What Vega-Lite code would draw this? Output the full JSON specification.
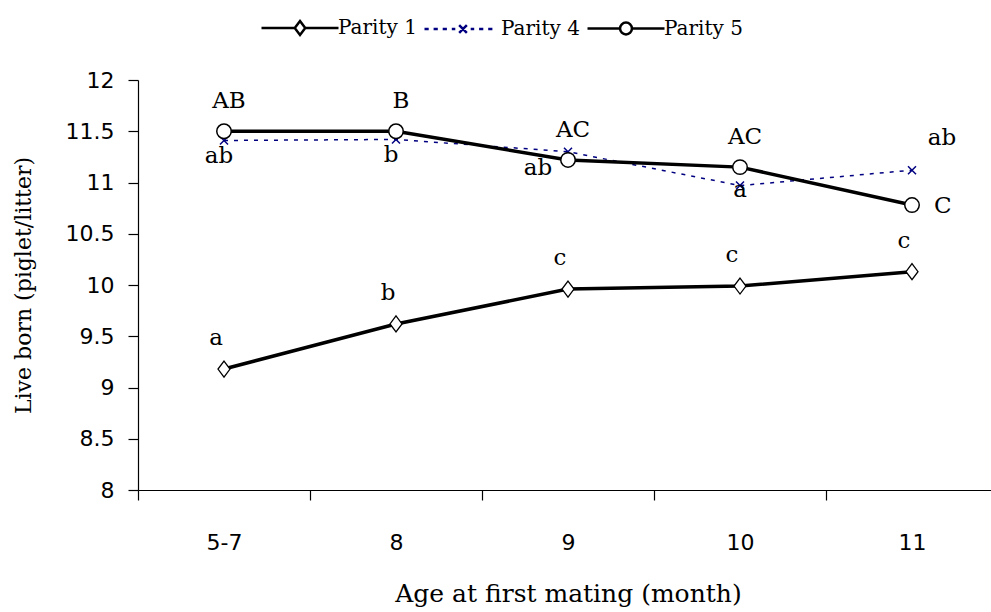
{
  "$schema": "https://vega.github.io/schema/vega-lite/v6.json",
  "width": 853,
  "height": 410,
  "autosize": "none",
  "padding": {"left": 138, "top": 80, "right": 0, "bottom": 122},
  "background": "white",
  "config": {
    "view": {"stroke": null},
    "axis": {"domainColor": "black", "tickColor": "black", "labelColor": "black", "titleColor": "black", "grid": false, "domainWidth": 1.2, "tickWidth": 1.2}
  },
  "data": {
    "values": [
      {"series": "Parity 1", "age": "5-7", "value": 9.18, "label": "a"},
      {"series": "Parity 1", "age": "8", "value": 9.62, "label": "b"},
      {"series": "Parity 1", "age": "9", "value": 9.96, "label": "c"},
      {"series": "Parity 1", "age": "10", "value": 9.99, "label": "c"},
      {"series": "Parity 1", "age": "11", "value": 10.13, "label": "c"},
      {"series": "Parity 4", "age": "5-7", "value": 11.41, "label": "ab"},
      {"series": "Parity 4", "age": "8", "value": 11.42, "label": "b"},
      {"series": "Parity 4", "age": "9", "value": 11.3, "label": "ab"},
      {"series": "Parity 4", "age": "10", "value": 10.97, "label": "a"},
      {"series": "Parity 4", "age": "11", "value": 11.12, "label": "ab"},
      {"series": "Parity 5", "age": "5-7", "value": 11.5, "label": "AB"},
      {"series": "Parity 5", "age": "8", "value": 11.5, "label": "B"},
      {"series": "Parity 5", "age": "9", "value": 11.22, "label": "AC"},
      {"series": "Parity 5", "age": "10", "value": 11.15, "label": "AC"},
      {"series": "Parity 5", "age": "11", "value": 10.78, "label": "C"}
    ]
  },
  "encoding": {
    "x": {
      "field": "age", "type": "ordinal", "sort": null,
      "scale": {"type": "band", "domain": ["5-7", "8", "9", "10", "11"], "range": [0, 860], "paddingInner": 0, "paddingOuter": 0},
      "axis": {"title": "Age at first mating  (month)", "labelAngle": 0, "tickBand": "extent", "tickSize": 10, "labelPadding": 32, "labelFont": "DejaVu Sans", "labelFontSize": 22, "labelFontWeight": "normal", "titleFont": "DejaVu Serif", "titleFontSize": 25, "titleFontWeight": "normal", "titlePadding": 28}
    },
    "y": {
      "field": "value", "type": "quantitative",
      "scale": {"domain": [8, 12], "nice": false, "zero": false},
      "axis": {"title": "Live born (piglet/litter)", "values": [8, 8.5, 9, 9.5, 10, 10.5, 11, 11.5, 12], "format": "~g", "tickSize": 10, "labelPadding": 14, "labelFont": "DejaVu Sans", "labelFontSize": 22, "titleFont": "DejaVu Serif", "titleFontSize": 22, "titleFontWeight": "normal", "titlePadding": 30}
    }
  },
  "layer": [
    {
      "transform": [{"filter": "datum.series === 'Parity 4'"}],
      "mark": {"type": "line", "color": "#000080", "strokeWidth": 1.5, "strokeDash": [4, 6]}
    },
    {
      "transform": [{"filter": "datum.series === 'Parity 1'"}],
      "mark": {"type": "line", "color": "black", "strokeWidth": 3.5}
    },
    {
      "transform": [{"filter": "datum.series === 'Parity 5'"}],
      "mark": {"type": "line", "color": "black", "strokeWidth": 3.5}
    },
    {
      "transform": [{"filter": "datum.series === 'Parity 4'"}],
      "mark": {"type": "point", "shape": "M-1,-1L1,1M-1,1L1,-1", "size": 64, "filled": false, "stroke": "#000080", "strokeWidth": 1.5, "opacity": 1}
    },
    {
      "transform": [{"filter": "datum.series === 'Parity 1'"}],
      "mark": {"type": "point", "shape": "M0,-1L0.75,0L0,1L-0.75,0Z", "size": 256, "filled": true, "fill": "white", "stroke": "black", "strokeWidth": 1.3, "opacity": 1}
    },
    {
      "transform": [{"filter": "datum.series === 'Parity 5'"}],
      "mark": {"type": "point", "shape": "circle", "size": 210, "filled": true, "fill": "white", "stroke": "black", "strokeWidth": 1.5, "opacity": 1}
    },
    {
      "transform": [{"filter": "datum.series === 'Parity 1'"}],
      "mark": {"type": "text", "font": "DejaVu Serif", "fontSize": 23, "color": "black", "dx": -8, "dy": -31, "baseline": "middle", "align": "center"},
      "encoding": {"text": {"field": "label"}}
    },
    {
      "transform": [{"filter": "datum.series === 'Parity 5' && datum.age !== '11'"}],
      "mark": {"type": "text", "font": "DejaVu Serif", "fontSize": 23, "color": "black", "dx": 5, "dy": -30, "baseline": "middle", "align": "center"},
      "encoding": {"text": {"field": "label"}}
    },
    {
      "transform": [{"filter": "datum.series === 'Parity 5' && datum.age === '11'"}],
      "mark": {"type": "text", "font": "DejaVu Serif", "fontSize": 23, "color": "black", "dx": 22, "dy": 1, "baseline": "middle", "align": "left"},
      "encoding": {"text": {"field": "label"}}
    },
    {
      "transform": [{"filter": "datum.series === 'Parity 4' && (datum.age === '5-7' || datum.age === '8')"}],
      "mark": {"type": "text", "font": "DejaVu Serif", "fontSize": 23, "color": "black", "dx": -5, "dy": 16, "baseline": "middle", "align": "center"},
      "encoding": {"text": {"field": "label"}}
    },
    {
      "transform": [{"filter": "datum.series === 'Parity 4' && datum.age === '9'"}],
      "mark": {"type": "text", "font": "DejaVu Serif", "fontSize": 23, "color": "black", "dx": -30, "dy": 16, "baseline": "middle", "align": "center"},
      "encoding": {"text": {"field": "label"}}
    },
    {
      "transform": [{"filter": "datum.series === 'Parity 4' && datum.age === '10'"}],
      "mark": {"type": "text", "font": "DejaVu Serif", "fontSize": 23, "color": "black", "dx": 0, "dy": 4, "baseline": "middle", "align": "center"},
      "encoding": {"text": {"field": "label"}}
    },
    {
      "transform": [{"filter": "datum.series === 'Parity 4' && datum.age === '11'"}],
      "mark": {"type": "text", "font": "DejaVu Serif", "fontSize": 23, "color": "black", "dx": 30, "dy": -32, "baseline": "middle", "align": "center"},
      "encoding": {"text": {"field": "label"}}
    },
    {
      "mark": {"type": "point", "opacity": 0, "filled": false},
      "encoding": {
        "shape": {
          "field": "series", "type": "nominal",
          "scale": {"domain": ["Parity 1", "Parity 4", "Parity 5"], "range": [
            "M-5.5,0L-0.75,0M0.75,0L5.5,0M0,-1L0.75,0L0,1L-0.75,0Z",
            "M-5.5,0L-4.9,0M-4.2,0L-3.6,0M-2.9,0L-2.3,0M-1.6,0L-1.1,0M-0.55,-0.55L0.55,0.55M-0.55,0.55L0.55,-0.55M1.1,0L1.6,0M2.3,0L2.9,0M3.6,0L4.2,0",
            "M-5.5,0L-0.85,0M0.85,0L5.5,0M-0.85,0A0.85,0.85 0 1,0 0.85,0A0.85,0.85 0 1,0 -0.85,0Z"
          ]},
          "legend": {"title": null, "orient": "none", "legendX": 152, "legendY": -62, "direction": "horizontal", "padding": 0, "symbolSize": 196, "labelOffset": 28, "columnPadding": 2, "labelFont": "DejaVu Serif", "labelFontSize": 20, "labelColor": "black", "symbolOpacity": 1, "symbolFillColor": "white", "symbolStrokeWidth": 2.5,
            "encode": {"symbols": {"enter": {"strokeWidth": {"signal": "datum.value === 'Parity 4' ? 1.5 : 2.5"}}, "update": {"fill": {"value": "white"}, "opacity": {"value": 1}, "strokeWidth": {"signal": "datum.value === 'Parity 4' ? 1.5 : 2.5"}}}}}
        },
        "stroke": {
          "field": "series", "type": "nominal",
          "scale": {"domain": ["Parity 1", "Parity 4", "Parity 5"], "range": ["black", "#000080", "black"]},
          "legend": {"title": null, "orient": "none", "legendX": 152, "legendY": -62, "direction": "horizontal", "padding": 0, "symbolSize": 196, "labelOffset": 28, "columnPadding": 2, "labelFont": "DejaVu Serif", "labelFontSize": 20, "labelColor": "black", "symbolOpacity": 1, "symbolFillColor": "white", "symbolStrokeWidth": 2.5,
            "encode": {"symbols": {"enter": {"strokeWidth": {"signal": "datum.value === 'Parity 4' ? 1.5 : 2.5"}}, "update": {"fill": {"value": "white"}, "opacity": {"value": 1}, "strokeWidth": {"signal": "datum.value === 'Parity 4' ? 1.5 : 2.5"}}}}}
        }
      }
    }
  ]
}
